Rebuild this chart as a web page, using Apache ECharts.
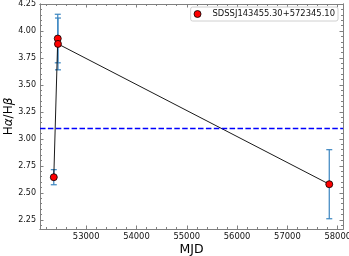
<!DOCTYPE html>
<html><head><meta charset="utf-8">
<script src="https://cdn.jsdelivr.net/npm/echarts@6/dist/echarts.min.js"></script>
<style>html,body{margin:0;padding:0;background:#fff}#c{width:349px;height:256px}</style>
</head><body><div id="c"></div>
<script>
// data
const mjd = [52357, 52436, 52440, 57832];
const ratio = [2.645, 3.93, 3.88, 2.58];
const ratioErr = [0.07, 0.225, 0.24, 0.32];
const seriesName = 'SDSSJ143455.30+572345.10';
const refValue = 3.1;
const xTicks = [53000, 54000, 55000, 56000, 57000, 58000];
const yTicks = [2.25, 2.50, 2.75, 3.00, 3.25, 3.50, 3.75, 4.00, 4.25];
const xRange = [52083, 58105];
const yRange = [2.165, 4.25];

const xMinor = [];
for (let v = 52200; v <= 58100; v += 200) if (v % 1000 !== 0) xMinor.push(v);
const yMinor = [];
for (let i = 44; i <= 85; i++) { const v = +(i * 0.05).toFixed(2); if (v >= yRange[0] && v <= yRange[1] && Math.abs(v / 0.25 - Math.round(v / 0.25)) > 1e-6) yMinor.push(v); }

const points = mjd.map((x, i) => [x, ratio[i]]);
const errData = mjd.map((x, i) => [x, ratio[i] - ratioErr[i], ratio[i] + ratioErr[i]]);

const font = 'DejaVu Sans';
const frame = '#808080';

function xAx(pos, ticks, len, labels) {
  return {
    type: 'value', position: pos, min: xRange[0], max: xRange[1],
    axisLine: { show: true, onZero: false, lineStyle: { color: frame, width: 1 } },
    axisTick: { show: true, inside: true, length: len, customValues: ticks, lineStyle: { color: frame, width: 1 } },
    axisLabel: labels ? { show: true, customValues: xTicks, fontFamily: font, fontSize: 8.4, color: '#111', margin: 4, formatter: v => String(v) } : { show: false },
    splitLine: { show: false }
  };
}
function yAx(pos, ticks, len, labels) {
  return {
    type: 'value', position: pos, min: yRange[0], max: yRange[1],
    axisLine: { show: true, onZero: false, lineStyle: { color: frame, width: 1 } },
    axisTick: { show: true, inside: true, length: len, customValues: ticks, lineStyle: { color: frame, width: 1 } },
    axisLabel: labels ? { show: true, customValues: yTicks, fontFamily: font, fontSize: 8, color: '#111', margin: 4, formatter: v => v.toFixed(2) } : { show: false },
    splitLine: { show: false }
  };
}

const xAxes = [xAx('bottom', xTicks, 3.5, true), xAx('bottom', xMinor, 2, false), xAx('top', xTicks, 3.5, false), xAx('top', xMinor, 2, false)];
xAxes[0].name = 'MJD';
xAxes[0].nameLocation = 'middle';
xAxes[0].nameGap = 14;
xAxes[0].nameMoveOverlap = false;
xAxes[0].nameTextStyle = { fontFamily: font, fontSize: 12.5, color: '#000' };
const yAxes = [yAx('left', yTicks, 3.5, true), yAx('left', yMinor, 2, false), yAx('right', yTicks, 3.5, false), yAx('right', yMinor, 2, false)];
yAxes[0].name = '{n|H}{i|α}{n|/H}{i|β}';
yAxes[0].nameLocation = 'middle';
yAxes[0].nameGap = 25;
yAxes[0].nameMoveOverlap = false;
yAxes[0].nameTextStyle = { rich: { n: { fontFamily: font, fontSize: 12, color: '#000' }, i: { fontFamily: font, fontSize: 12, fontStyle: 'italic', color: '#000' } } };

const chart = echarts.init(document.getElementById('c'), null, { renderer: 'canvas' });
chart.setOption({
  animation: false,
  backgroundColor: '#fff',
  grid: { left: 40, right: 6, top: 4, bottom: 27, containLabel: false, outerBoundsMode: 'none' },
  xAxis: xAxes,
  yAxis: yAxes,
  legend: {
    right: 11, top: 7, orient: 'horizontal',
    data: [seriesName],
    icon: 'circle', itemWidth: 20, itemHeight: 7,
    padding: [3, 3, 3, 3],
    borderColor: '#d0d0d0', borderWidth: 1, borderRadius: 2, backgroundColor: 'rgba(255,255,255,0.8)',
    textStyle: { fontFamily: font, fontSize: 8.4, color: '#111', padding: [0, 0, 0, 0] },
    itemStyle: { color: '#ff0000', borderColor: '#000', borderWidth: 0.8 }
  },
  series: [
    {
      type: 'custom', name: 'err', xAxisIndex: 0, yAxisIndex: 0, z: 2, silent: true,
      data: errData,
      renderItem: function (params, api) {
        const x = api.value(0);
        const lo = api.coord([x, api.value(1)]);
        const hi = api.coord([x, api.value(2)]);
        const cap = 3;
        const st = { stroke: '#3a85c0', lineWidth: 1.2 };
        return { type: 'group', children: [
          { type: 'line', shape: { x1: lo[0], y1: lo[1], x2: hi[0], y2: hi[1] }, style: st },
          { type: 'line', shape: { x1: lo[0] - cap, y1: lo[1], x2: lo[0] + cap, y2: lo[1] }, style: st },
          { type: 'line', shape: { x1: hi[0] - cap, y1: hi[1], x2: hi[0] + cap, y2: hi[1] }, style: st }
        ] };
      }
    },
    {
      type: 'line', name: seriesName, xAxisIndex: 0, yAxisIndex: 0, z: 3,
      data: points,
      symbol: 'circle', symbolSize: 7, showAllSymbol: true,
      lineStyle: { color: '#000', width: 0.9 },
      itemStyle: { color: '#ff0000', borderColor: '#000', borderWidth: 0.8 },
      markLine: {
        silent: true, symbol: 'none', label: { show: false },
        lineStyle: { color: '#0000ff', width: 1.3, type: [5.5, 2.4] },
        data: [{ yAxis: refValue }]
      }
    }
  ]
});
</script>
</body></html>
